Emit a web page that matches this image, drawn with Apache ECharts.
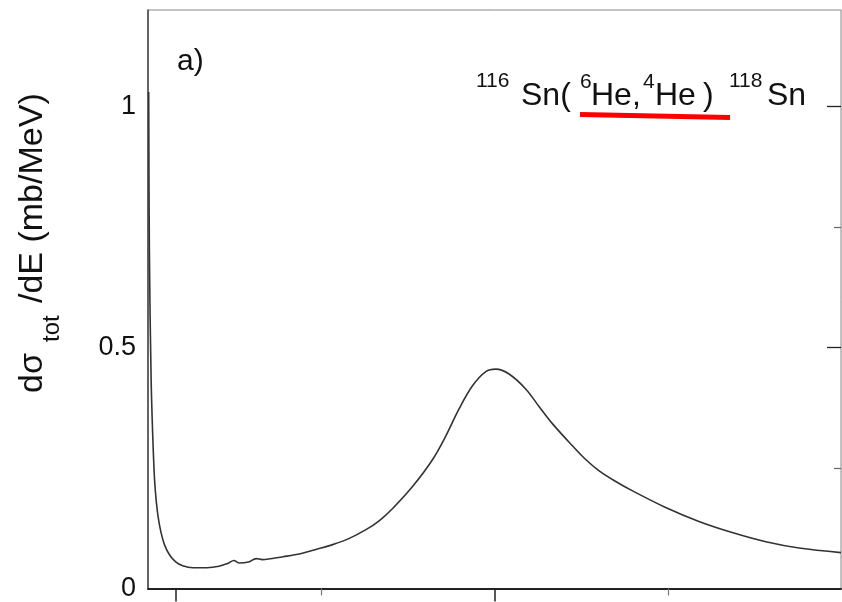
<!DOCTYPE html>
<html><head><meta charset="utf-8">
<script src="https://cdn.jsdelivr.net/npm/echarts@6/dist/echarts.min.js"></script>
<style>html,body{margin:0;padding:0;background:#fff}#c{width:842px;height:602px}</style>
</head><body><div id="c"></div>
<script>
// Energy (arbitrary axis units, 0..20) and cross section dσ/dE (mb/MeV)
const energy = [0.02, 0.04, 0.09, 0.14, 0.19, 0.24, 0.30, 0.38, 0.48, 0.62, 0.80, 1.00, 1.30, 1.70, 2.05, 2.30, 2.48, 2.62, 2.90, 3.12, 3.30, 3.90, 4.40, 4.85, 5.33, 5.81, 6.29, 6.68, 7.06, 7.64, 8.21, 8.60, 8.98, 9.37, 9.75, 10.04, 10.42, 10.90, 11.29, 11.67, 12.25, 12.64, 13.02, 13.45, 13.97, 14.94, 15.90, 16.86, 17.83, 18.79, 20.0];
const dSigma = [1.03, 0.70, 0.435, 0.31, 0.225, 0.18, 0.145, 0.115, 0.090, 0.070, 0.055, 0.047, 0.043, 0.043, 0.046, 0.052, 0.058, 0.053, 0.055, 0.062, 0.060, 0.066, 0.072, 0.081, 0.091, 0.104, 0.122, 0.141, 0.166, 0.212, 0.267, 0.317, 0.373, 0.421, 0.450, 0.455, 0.445, 0.414, 0.377, 0.342, 0.296, 0.267, 0.244, 0.224, 0.203, 0.168, 0.139, 0.116, 0.097, 0.084, 0.0745];
const yTickLabels = [0, 0.5, 1];
const xMajorTicks = [0.8, 10];
const xMinorTicks = [5, 15];
const panelLabel = 'a)';
const reactionParts = ['116', 'Sn(', '6', 'He,', '4', 'He', ')', '118', 'Sn'];
const yNameParts = ['dσ', 'tot', '/dE (mb/MeV)'];

const FF = '"Liberation Sans", Arial, Helvetica, sans-serif';
const chart = echarts.init(document.getElementById('c'), null, {renderer: 'canvas'});
const pts = energy.map((e, i) => [e, dSigma[i]]);

function txt(text, x, y, size, extra) {
  return Object.assign({
    type: 'text', x: x, y: y, z: 100,
    style: {
      text: text, fill: '#111', font: size + 'px ' + FF, fontSize: size, fontFamily: FF,
      textAlign: 'left', textVerticalAlign: 'middle', align: 'left', verticalAlign: 'middle'
    }
  }, extra || {});
}
const graphics = [
  txt(panelLabel, 177, 62, 30),
  txt(reactionParts[0], 476, 81, 21),
  txt(reactionParts[1], 521, 96, 32),
  txt(reactionParts[2], 580, 82, 21),
  txt(reactionParts[3], 591, 96, 32),
  txt(reactionParts[4], 643, 82, 21),
  txt(reactionParts[5], 655, 96, 32),
  txt(reactionParts[6], 703, 96, 32),
  txt(reactionParts[7], 729, 81, 21),
  txt(reactionParts[8], 767, 96, 32),
  txt(yNameParts[0], 33, 393, 34, {rotation: Math.PI / 2}),
  txt(yNameParts[1], 52, 342, 24, {rotation: Math.PI / 2}),
  txt(yNameParts[2], 33, 303, 34, {rotation: Math.PI / 2}),
  {type: 'line', z: 101, shape: {x1: 580, y1: 114.5, x2: 730, y2: 117.5},
   style: {stroke: '#ff0000', lineWidth: 5}}
];

chart.setOption({
  animation: false,
  backgroundColor: '#fff',
  grid: {left: 148, right: 1, top: 10, bottom: 12, show: true, borderColor: '#888', borderWidth: 1, backgroundColor: 'transparent'},
  xAxis: [
    {type: 'value', min: 0, max: 20, position: 'bottom',
     axisLine: {show: true, onZero: false, lineStyle: {color: '#222', width: 2}},
     axisTick: {show: true, inside: false, length: 13, customValues: xMajorTicks, lineStyle: {color: '#222', width: 1.5}},
     axisLabel: {show: false}, splitLine: {show: false}},
    {type: 'value', min: 0, max: 20, position: 'bottom',
     axisLine: {show: false, onZero: false},
     axisTick: {show: true, inside: false, length: 7, customValues: xMinorTicks, lineStyle: {color: '#777', width: 1.2}},
     axisLabel: {show: false}, splitLine: {show: false}}
  ],
  yAxis: [
    {type: 'value', min: 0, max: 1.2, interval: 0.5, position: 'left',
     axisLine: {show: true, onZero: false, lineStyle: {color: '#444', width: 1.5}},
     axisTick: {show: false},
     axisLabel: {show: true, margin: 12, customValues: yTickLabels, fontSize: 27, fontFamily: FF, color: '#111'},
     splitLine: {show: false}},
    {type: 'value', min: 0, max: 1.2, interval: 0.5, position: 'right',
     axisLine: {show: true, onZero: false, lineStyle: {color: '#bbb', width: 1}},
     axisTick: {show: true, inside: true, length: 14, customValues: [0.5, 1], lineStyle: {color: '#222', width: 1.3}},
     axisLabel: {show: false}, splitLine: {show: false}},
    {type: 'value', min: 0, max: 1.2, position: 'right',
     axisLine: {show: false, onZero: false},
     axisTick: {show: true, inside: true, length: 7, customValues: [0.25, 0.75], lineStyle: {color: '#666', width: 1.2}},
     axisLabel: {show: false}, splitLine: {show: false}}
  ],
  series: [{
    type: 'line', data: pts, xAxisIndex: 0, yAxisIndex: 0,
    showSymbol: false, smooth: 0.35,
    lineStyle: {color: '#333', width: 1.6}
  }],
  graphic: graphics
});
</script>
</body></html>
